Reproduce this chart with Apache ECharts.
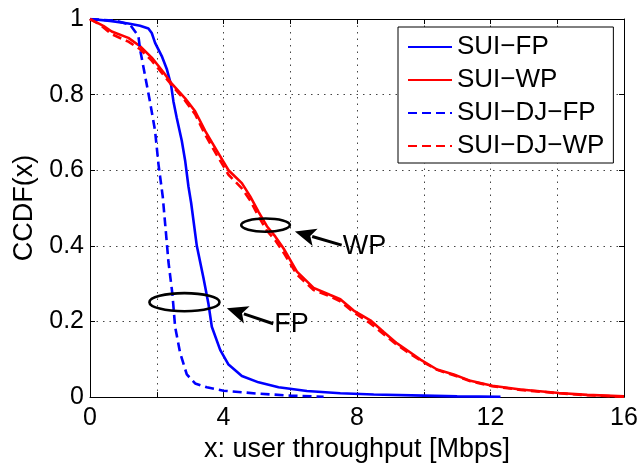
<!DOCTYPE html>
<html>
<head>
<meta charset="utf-8">
<script src="https://cdn.jsdelivr.net/npm/echarts@6/dist/echarts.min.js"></script>
<style>
  html, body { margin: 0; padding: 0; background: #fff; }
  #chart { width: 643px; height: 468px; }
</style>
</head>
<body>
<div id="chart"></div>
<script>
// CCDF of user throughput, [Mbps, probability] pairs per scheme
const suiFP = [
  [0, 1], [0.6, 0.995], [1.15, 0.988], [1.5, 0.982], [1.75, 0.975], [1.85, 0.963],
  [1.95, 0.937], [2.15, 0.902], [2.3, 0.868], [2.43, 0.825], [2.5, 0.782], [2.6, 0.738],
  [2.75, 0.678], [2.85, 0.626], [2.95, 0.557], [3.03, 0.514], [3.2, 0.40], [3.4, 0.315],
  [3.55, 0.246], [3.65, 0.186], [3.9, 0.125], [4.15, 0.086], [4.55, 0.056], [5.05, 0.039],
  [5.65, 0.026], [6.5, 0.016], [7.5, 0.010], [8.5, 0.007], [10, 0.004], [11, 0.002], [12.3, 0.001]
];
const suiWP = [
  [0, 1], [0.15, 0.993], [0.4, 0.982], [0.65, 0.967], [1.15, 0.95], [1.5, 0.928],
  [1.85, 0.898], [2.2, 0.859], [2.45, 0.829], [2.85, 0.79], [3.15, 0.756], [3.45, 0.704],
  [3.8, 0.652], [4.15, 0.60], [4.55, 0.566], [4.8, 0.531], [5.05, 0.49], [5.3, 0.452],
  [5.55, 0.425], [5.8, 0.393], [6.2, 0.332], [6.7, 0.289], [7.2, 0.27], [7.5, 0.259],
  [7.9, 0.229], [8.4, 0.203], [8.8, 0.172], [9.2, 0.142], [9.6, 0.118], [9.9, 0.099],
  [10.4, 0.073], [10.9, 0.06], [11.4, 0.043], [12.05, 0.030], [12.9, 0.020], [14.05, 0.011],
  [14.9, 0.006], [16, 0.002]
];
const suiDjFP = [
  [0, 1], [0.8, 0.995], [1.2, 0.985], [1.35, 0.967], [1.45, 0.955], [1.5, 0.92],
  [1.65, 0.85], [1.8, 0.78], [1.95, 0.704], [2.05, 0.617], [2.18, 0.53], [2.27, 0.44],
  [2.35, 0.358], [2.47, 0.272], [2.55, 0.186], [2.7, 0.117], [2.9, 0.06], [3.15, 0.036],
  [3.5, 0.026], [4.0, 0.017], [5.05, 0.009], [6, 0.004], [7, 0.001]
];
const suiDjWP = [
  [0, 1], [0.3, 0.985], [0.65, 0.96], [1.15, 0.94], [1.5, 0.92], [1.85, 0.89],
  [2.2, 0.852], [2.45, 0.825], [2.85, 0.784], [3.15, 0.748], [3.45, 0.694], [3.8, 0.64],
  [4.15, 0.588], [4.55, 0.552], [4.8, 0.52], [5.05, 0.478], [5.3, 0.44], [5.55, 0.415],
  [5.8, 0.382], [6.2, 0.324], [6.7, 0.283], [7.2, 0.266], [7.5, 0.253], [7.9, 0.224],
  [8.4, 0.195], [8.8, 0.166], [9.2, 0.138], [9.6, 0.114], [9.9, 0.097], [10.4, 0.072],
  [10.9, 0.058], [11.4, 0.042], [12.05, 0.029], [12.9, 0.019], [14.05, 0.010], [14.9, 0.005],
  [16, 0.001]
];
const seriesNames = ['SUI\u2212FP', 'SUI\u2212WP', 'SUI\u2212DJ\u2212FP', 'SUI\u2212DJ\u2212WP'];
const xLabelStep = 4;

// Callouts in data units: ellipse centre/radii, arrow tip and tail, label
const callouts = [
  { text: 'FP', center: [2.83, 0.251], radius: [1.05, 0.024], tip: [4.10, 0.235], tail: [5.49, 0.194] },
  { text: 'WP', center: [5.26, 0.455], radius: [0.73, 0.0175], tip: [6.14, 0.438], tail: [7.54, 0.402] }
];

const FONT = 'Liberation Sans, Arial, Helvetica, sans-serif';
const chart = echarts.init(document.getElementById('chart'), null, { renderer: 'canvas' });

const gridLine = { show: true, lineStyle: { color: '#444', type: [1.5, 5], width: 1 } };
const axisLine = { show: true, onZero: false, lineStyle: { color: '#000', width: 1 } };
const tickIn = { show: true, inside: true, length: 5, lineStyle: { color: '#000', width: 1 } };

function lineSeries(name, data, color, dashed) {
  return {
    name, type: 'line', data, symbol: 'none', smooth: false, animation: false,
    xAxisIndex: 0, yAxisIndex: 0,
    lineStyle: { color, width: 2.6, type: dashed ? [9, 5] : 'solid' },
    itemStyle: { color }
  };
}

chart.setOption({
  backgroundColor: '#fff',
  animation: false,
  grid: { left: 90, right: 19, top: 19, bottom: 63, containLabel: false },
  legend: {
    left: 398, top: 27, orient: 'vertical',
    backgroundColor: '#fff', borderColor: '#000', borderWidth: 1, borderRadius: 0,
    padding: [7, 9, 4, 9],
    itemWidth: 44, itemHeight: 14, itemGap: 7,
    itemStyle: { color: 'rgba(0,0,0,0)', borderWidth: 0, opacity: 0 },
    textStyle: { fontFamily: FONT, fontSize: 26, color: '#000', lineHeight: 26 },
    data: seriesNames,
    selectedMode: false
  },
  xAxis: [
    {
      type: 'value', min: 0, max: 16, interval: 2, position: 'bottom',
      name: 'x: user throughput [Mbps]', nameLocation: 'middle', nameGap: 31,
      nameTextStyle: { fontFamily: FONT, fontSize: 27, color: '#000', verticalAlign: 'top' },
      axisLine, axisTick: tickIn, splitLine: gridLine,
      axisLabel: {
        fontFamily: FONT, fontSize: 25, color: '#000', margin: 9,
        formatter: v => (v % xLabelStep === 0 ? String(v) : '')
      }
    },
    {
      type: 'value', min: 0, max: 16, interval: 2, position: 'top',
      axisLine, axisTick: tickIn, splitLine: { show: false }, axisLabel: { show: false }
    }
  ],
  yAxis: [
    {
      type: 'value', min: 0, max: 1, interval: 0.2, position: 'left',
      name: 'CCDF(x)', nameLocation: 'middle', nameGap: 50,
      nameTextStyle: { fontFamily: FONT, fontSize: 27, color: '#000' },
      axisLine, axisTick: tickIn, splitLine: gridLine,
      axisLabel: {
        fontFamily: FONT, fontSize: 25, color: '#000', margin: 6,
        formatter: v => (v === 0 || v === 1 ? String(v) : v.toFixed(1))
      }
    },
    {
      type: 'value', min: 0, max: 1, interval: 0.2, position: 'right',
      axisLine, axisTick: tickIn, splitLine: { show: false }, axisLabel: { show: false }
    }
  ],
  series: [
    lineSeries(seriesNames[0], suiFP, '#0000ff', false),
    lineSeries(seriesNames[1], suiWP, '#ff0000', false),
    lineSeries(seriesNames[2], suiDjFP, '#0000ff', true),
    lineSeries(seriesNames[3], suiDjWP, '#ff0000', true)
  ]
});

// Callout ellipses and arrows, placed through the axis scales
function buildCallouts() {
  const toPx = p => chart.convertToPixel({ xAxisIndex: 0, yAxisIndex: 0 }, p);
  const els = [];
  callouts.forEach(c => {
    const ctr = toPx(c.center);
    const edge = toPx([c.center[0] + c.radius[0], c.center[1] + c.radius[1]]);
    els.push({
      type: 'ellipse', z: 100,
      shape: { cx: ctr[0], cy: ctr[1], rx: Math.abs(edge[0] - ctr[0]), ry: Math.abs(edge[1] - ctr[1]) },
      style: { fill: 'none', stroke: '#000', lineWidth: 2.6 }
    });
    const tip = toPx(c.tip), tail = toPx(c.tail);
    const dx = tip[0] - tail[0], dy = tip[1] - tail[1];
    const len = Math.hypot(dx, dy), ux = dx / len, uy = dy / len;
    const headLen = 21, headHalf = 9;
    const bx = tip[0] - ux * headLen, by = tip[1] - uy * headLen;
    els.push({
      type: 'line', z: 100,
      shape: { x1: tail[0], y1: tail[1], x2: bx + ux * 3, y2: by + uy * 3 },
      style: { stroke: '#000', lineWidth: 3 }
    });
    els.push({
      type: 'polygon', z: 100,
      shape: { points: [tip, [bx - uy * headHalf, by + ux * headHalf], [bx + ux * 5, by + uy * 5], [bx + uy * headHalf, by - ux * headHalf]] },
      style: { fill: '#000' }
    });
    els.push({
      type: 'text', z: 100,
      x: tail[0] + 1, y: tail[1] + 1,
      style: { text: c.text, fontFamily: FONT, fontSize: 27, fill: '#000', align: 'left', verticalAlign: 'middle' }
    });
  });
  chart.setOption({ graphic: els });
}
buildCallouts();
</script>
</body>
</html>
